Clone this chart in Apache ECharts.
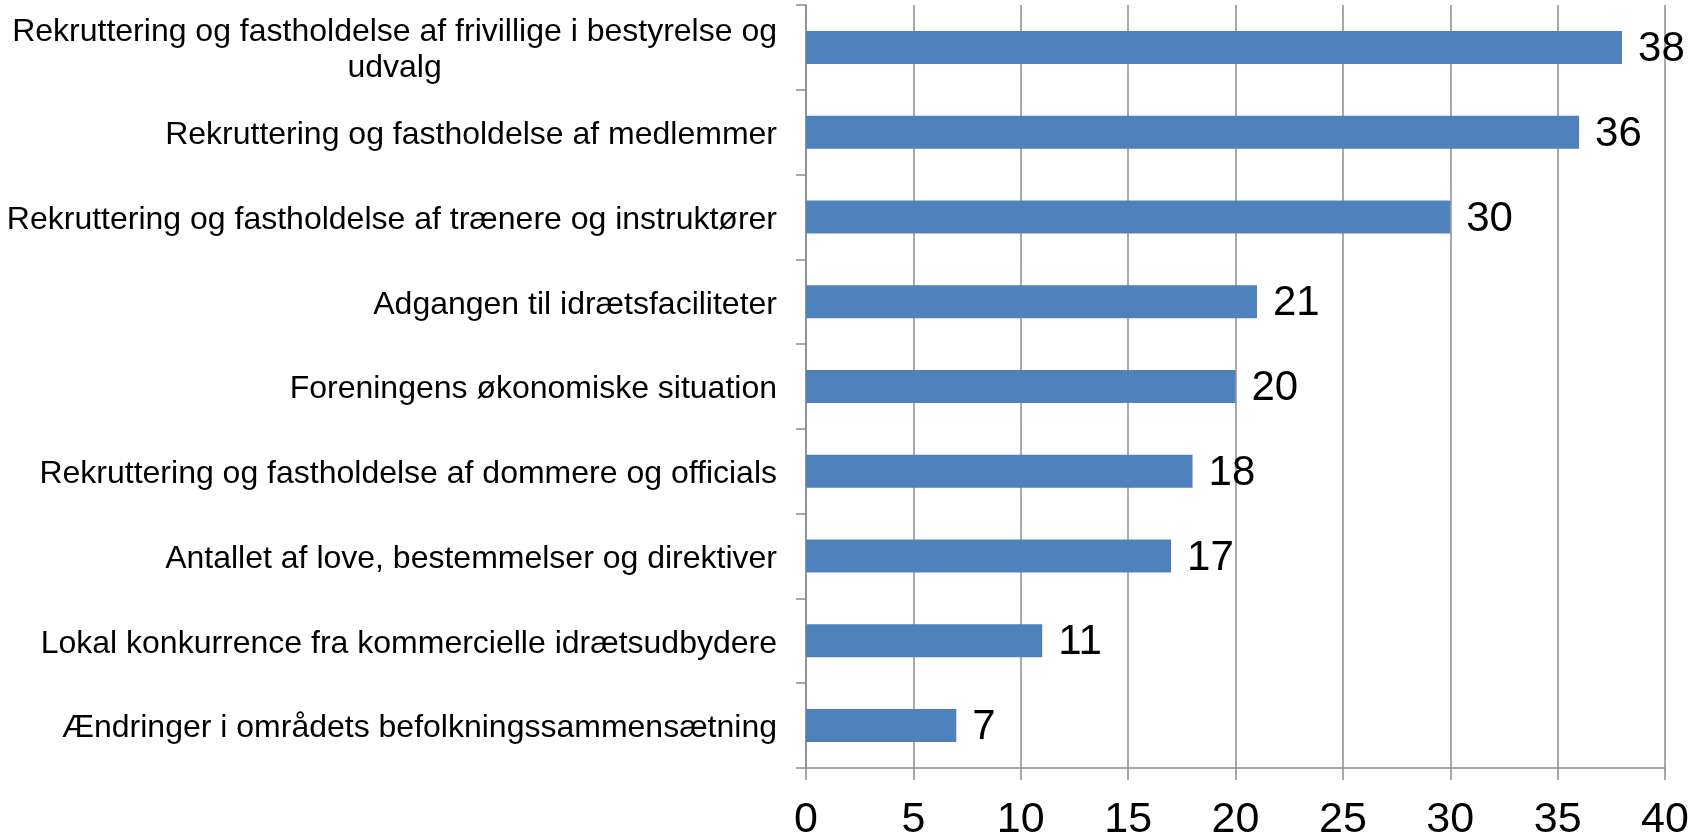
<!DOCTYPE html>
<html>
<head>
<meta charset="utf-8">
<script src="https://cdn.jsdelivr.net/npm/echarts@6/dist/echarts.min.js"></script>
<style>
  html, body { margin: 0; padding: 0; background: #fff; }
  #main { width: 1705px; height: 836px; }
</style>
</head>
<body>
<div id="main"></div>
<script>
// kategorier, fra top til bund
var categories = [
    'Rekruttering og fastholdelse af frivillige i bestyrelse og\nudvalg',
    'Rekruttering og fastholdelse af medlemmer',
    'Rekruttering og fastholdelse af trænere og instruktører',
    'Adgangen til idrætsfaciliteter',
    'Foreningens økonomiske situation',
    'Rekruttering og fastholdelse af dommere og officials',
    'Antallet af love, bestemmelser og direktiver',
    'Lokal konkurrence fra kommercielle idrætsudbydere',
    'Ændringer i områdets befolkningssammensætning'
];
var values = [38, 36, 30, 21, 20, 18, 17, 11, 7];
var xTicks = [0, 5, 10, 15, 20, 25, 30, 35, 40];

var myChart = echarts.init(document.getElementById('main'));
var font = '"Liberation Sans", Arial, sans-serif';
var gray = '#8c8c8c';

var option = {
    animation: false,
    grid: { left: 806, right: 40, top: 5, bottom: 68, outerBoundsMode: 'none', containLabel: false },
    xAxis: {
        type: 'value',
        min: xTicks[0],
        max: xTicks[xTicks.length - 1],
        interval: 5,
        axisLine: { show: true, lineStyle: { color: gray, width: 1.5 } },
        axisTick: { show: true, length: 12, lineStyle: { color: gray, width: 1.5 } },
        splitLine: { show: true, lineStyle: { color: gray, width: 1.5 } },
        axisLabel: { fontSize: 43, color: '#000', fontFamily: font, margin: 31 }
    },
    yAxis: {
        type: 'category',
        data: categories,
        inverse: true,
        axisLine: { show: true, lineStyle: { color: gray, width: 1.5 } },
        axisTick: { show: true, length: 10, alignWithLabel: false, lineStyle: { color: gray, width: 1.5 } },
        splitLine: { show: false },
        axisLabel: {
            margin: 29,
            formatter: function (v) { return '{c|' + v + '}'; },
            rich: {
                c: { fontSize: 32, lineHeight: 36, color: '#000', fontFamily: font, align: 'center', padding: [6, 0, 0, 0] }
            }
        }
    },
    series: [{
        type: 'bar',
        data: values,
        barWidth: 33,
        itemStyle: { color: '#4f81bd' },
        label: {
            show: true,
            position: 'right',
            distance: 16,
            fontSize: 42,
            color: '#000',
            fontFamily: font,
            offset: [0, 2]
        }
    }]
};

myChart.setOption(option);
</script>
</body>
</html>
